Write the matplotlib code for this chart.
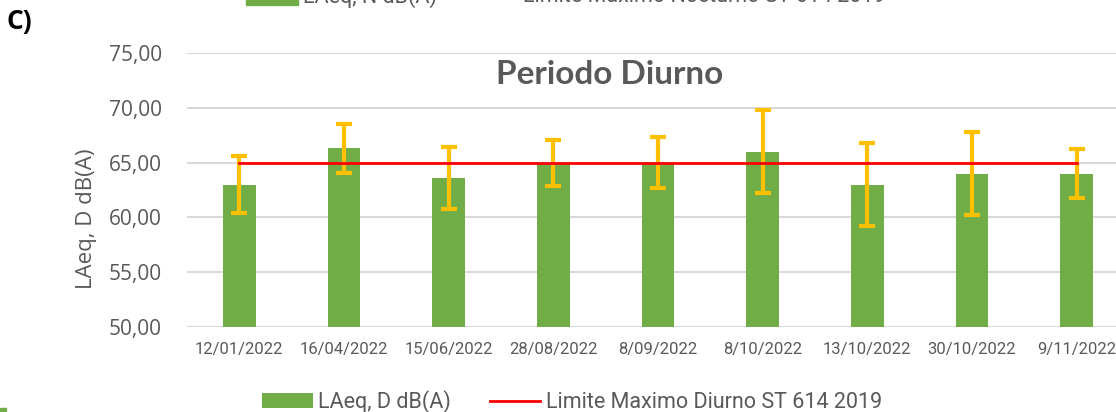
import matplotlib
matplotlib.use('Agg')
import matplotlib.pyplot as plt
from matplotlib.patches import Rectangle

plt.rcParams['font.family'] = ['Open Sans', 'DejaVu Sans']

fechas = ['12/01/2022', '16/04/2022', '15/06/2022', '28/08/2022', '8/09/2022',
          '8/10/2022', '13/10/2022', '30/10/2022', '9/11/2022']
laeq_d = [63.0, 66.3, 63.6, 65.0, 65.0, 66.0, 63.0, 64.0, 64.0]
error = [2.6, 2.25, 2.8, 2.1, 2.3, 3.8, 3.8, 3.8, 2.2]
limite = [65, 65, 65, 65, 65, 65, 65, 65, 65]
yticks = [50, 55, 60, 65, 70, 75]

verde = '#70AD47'
amarillo = '#FFC000'
rojo = '#FF0000'
gris = '#595959'
narrow = ['Roboto', 'DejaVu Sans']

W, H = 1116, 412
fig = plt.figure(figsize=(W / 100, H / 100), dpi=100)
ax = fig.add_axes([187 / W, 85 / H, 942 / W, 274 / H])

x = list(range(len(fechas)))
barras = ax.bar(x, laeq_d, width=0.31, color=verde, zorder=2, label='LAeq, D dB(A)')
ax.errorbar(x, laeq_d, yerr=error, fmt='none', ecolor=amarillo, elinewidth=3,
            capsize=6, capthick=3, zorder=3)
linea, = ax.plot(x, limite, color=rojo, lw=2, zorder=4,
                 label='Limite Maximo Diurno ST 614 2019')

ax.set_xlim(-0.5, len(fechas) - 0.5)
ax.set_ylim(50, 75)
ax.set_yticks(yticks)
ax.set_yticklabels([f'{v:.2f}'.replace('.', ',') for v in yticks])
ax.set_xticks(x)
ax.set_xticklabels(fechas, family=narrow, fontsize=12, color=gris)
ax.tick_params(axis='x', length=0, pad=11)
ax.tick_params(axis='y', length=0, pad=18, labelsize=15, labelcolor=gris)
ax.yaxis.grid(True, color='#D9D9D9', lw=1.5, zorder=0)
ax.set_axisbelow(True)
for s in ax.spines.values():
    s.set_visible(False)
ax.set_ylabel('LAeq, D dB(A)', fontsize=16, color=gris)
ax.yaxis.set_label_coords(-0.096, 0.394)

fig.text(610 / W, 1 - 75 / H, 'Periodo Diurno', family=['Lato', 'DejaVu Sans'],
         fontsize=24, fontweight='bold', color=gris, ha='center', va='center')
fig.text(7 / W, 1 - 22 / H, 'C)', fontsize=19, fontweight='bold', color='black',
         ha='left', va='center')

# leyenda inferior
fig.legend([barras, linea], ['LAeq, D dB(A)', 'Limite Maximo Diurno ST 614 2019'],
           loc='center left', bbox_to_anchor=(262 / W, 10 / H), ncol=2, frameon=False,
           prop={'family': narrow, 'size': 15.5}, handlelength=2.35, handleheight=0.7,
           handletextpad=0.25, columnspacing=1.8, labelcolor=gris, borderpad=0,
           borderaxespad=0)

# leyenda superior recortada (grafico anterior)
fig.patches.append(Rectangle((246 / W, 1 - 5 / H), 52 / W, 14 / H, color=verde,
                             transform=fig.transFigure, figure=fig))
fig.text(303 / W, 1 + 3 / H, 'LAeq, N dB(A)', family=narrow, fontsize=15.5,
         color=gris, ha='left', va='center')
fig.text(523 / W, 1 + 3 / H, 'Limite Maximo Nocturno ST 614 2019', family=narrow,
         fontsize=15.5, color=gris, ha='left', va='center')
fig.patches.append(Rectangle((0, 1 - 411 / H), 6 / W, 3 / H, color=verde,
                             transform=fig.transFigure, figure=fig))

fig.savefig('out.png', dpi=100)
